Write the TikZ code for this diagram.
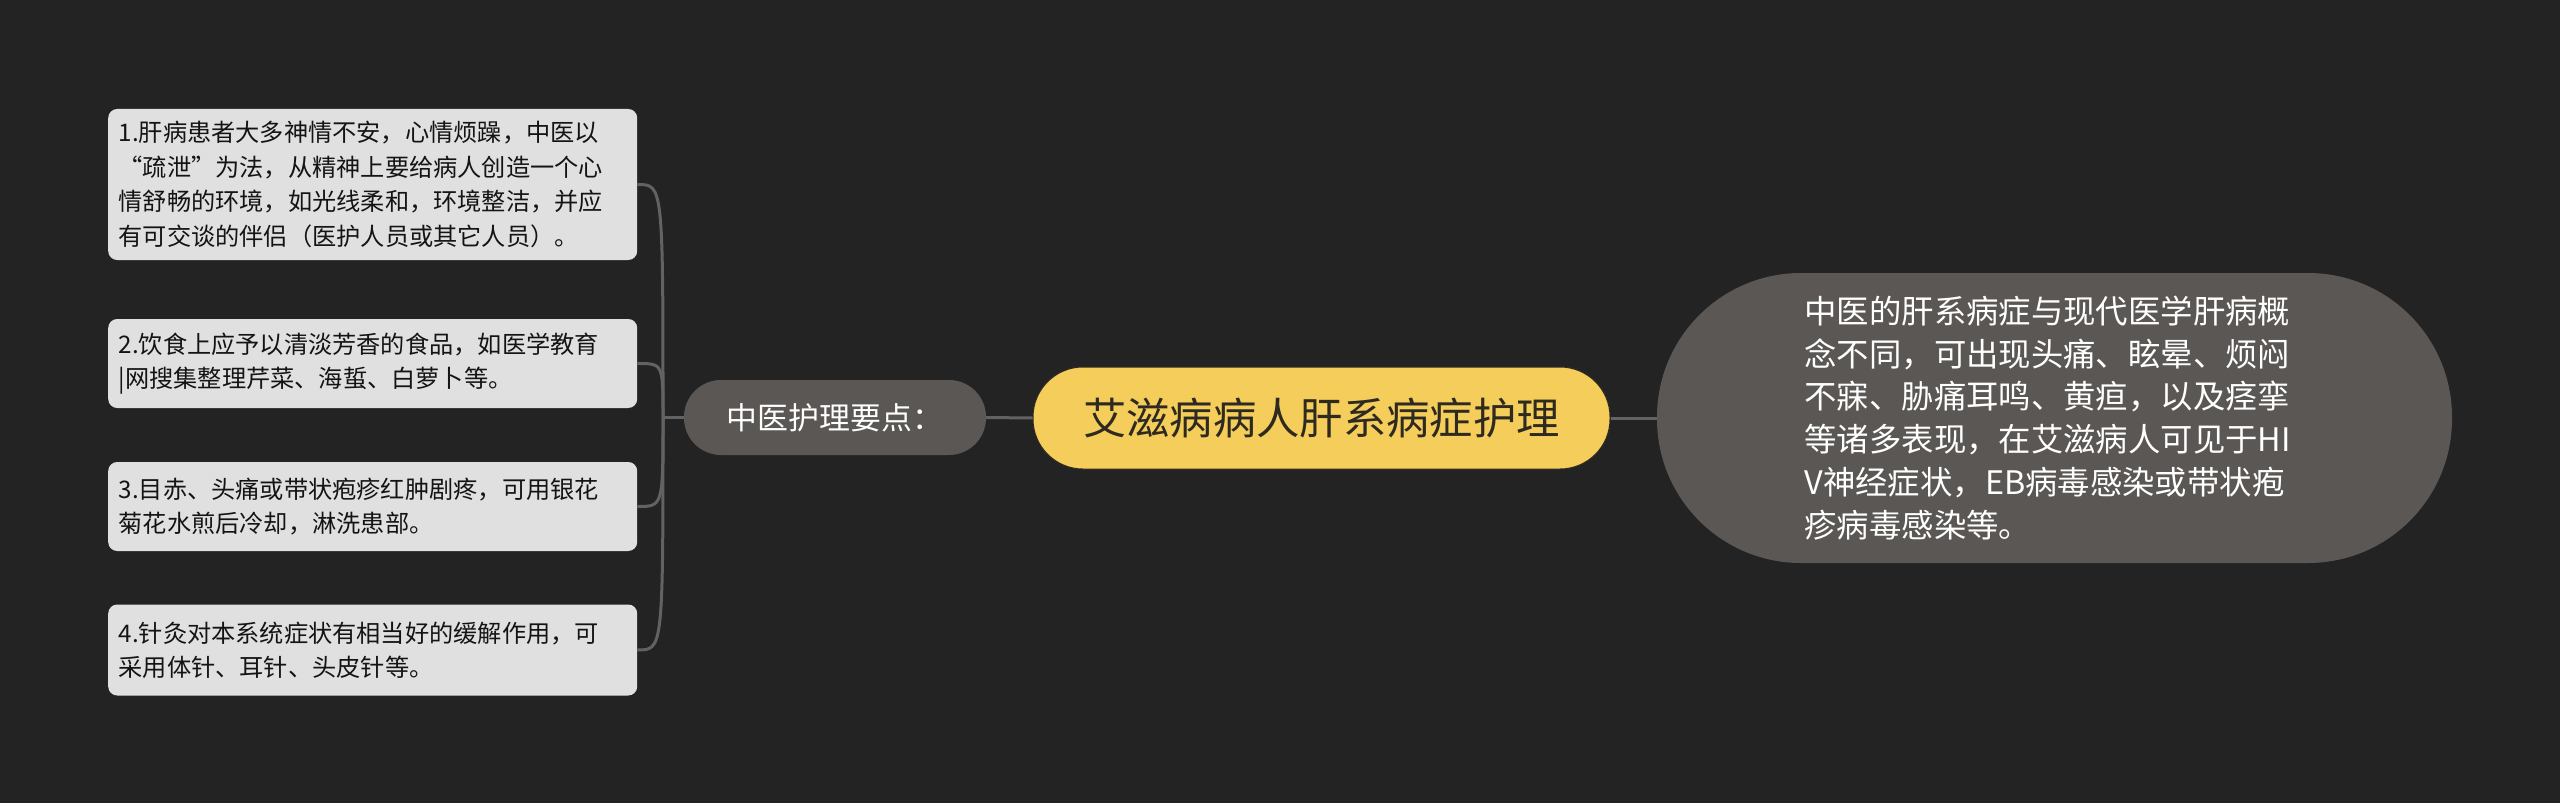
\documentclass[tikz,border=0pt]{standalone}
\usepackage{fontspec}
\setmainfont{Noto Sans CJK SC}
\definecolor{bgc}{HTML}{232323}
\definecolor{grayn}{HTML}{5A5754}
\definecolor{leaff}{HTML}{E0E0E0}
\definecolor{leaft}{HTML}{141414}
\definecolor{yel}{HTML}{F5CD5B}
\definecolor{roott}{HTML}{2E2A20}
\definecolor{connc}{HTML}{626262}
\begin{document}
\begin{tikzpicture}[x=1bp,y=-1bp,
  leafbox/.style={fill=leaff, rounded corners=9bp, text width=508bp, inner xsep=10.5bp, inner ysep=0pt,
    align=left, anchor=west, text=leaft, font=\fontsize{24.3}{34.5}\selectfont},
  graynode/.style={fill=grayn, text=white, inner sep=0pt},
  conn/.style={draw=connc, line width=3bp}]
\fill[bgc] (0,0) rectangle (2560,803);
\useasboundingbox (0,0) rectangle (2560,803);

% leaves
\node[leafbox, minimum height=151bp] (l1) at (108,184.5)
  {1.肝病患者大多神情不安，心情烦躁，中医以\\“疏泄”为法，从精神上要给病人创造一个心\\情舒畅的环境，如光线柔和，环境整洁，并应\\有可交谈的伴侣（医护人员或其它人员）。};
\node[leafbox, minimum height=89bp] (l2) at (108,363.5)
  {2.饮食上应予以清淡芳香的食品，如医学教育\\|网搜集整理芹菜、海蜇、白萝卜等。};
\node[leafbox, minimum height=89bp] (l3) at (108,506.5)
  {3.目赤、头痛或带状疱疹红肿剧疼，可用银花\\菊花水煎后冷却，淋洗患部。};
\node[leafbox, minimum height=91bp] (l4) at (108,650)
  {4.针灸对本系统症状有相当好的缓解作用，可\\采用体针、耳针、头皮针等。};

% middle node
\node[graynode, minimum width=302bp, minimum height=75bp, rounded corners=37bp,
  font=\fontsize{31}{37}\selectfont] (mid) at (835,417.5) {中医护理要点：};

% root
\node[fill=yel, draw=roott, line width=1bp, minimum width=577bp, minimum height=102bp,
  rounded corners=50bp, inner sep=0pt, text=roott, font=\fontsize{43.5}{50}\selectfont]
  (root) at (1321.5,418) {艾滋病病人肝系病症护理};

% right description
\node[graynode, minimum width=795bp, minimum height=290bp, rounded corners=144bp,
  text width=500bp, align=left, font=\fontsize{32.5}{43}\selectfont] (desc) at (2054.5,418)
  {中医的肝系病症与现代医学肝病概\\念不同，可出现头痛、眩晕、烦闷\\不寐、胁痛耳鸣、黄疸，以及痉挛\\等诸多表现，在艾滋病人可见于HI\\V神经症状，EB病毒感染或带状疱\\疹病毒感染等。};

\coordinate (J) at (663,417.5);

\draw[conn] (J) -- (mid.west);
\draw[conn] (mid.east) -- (root.west);
\draw[conn] (root.east) -- (desc.west);
\foreach \l in {l1,l2,l3,l4}
  \draw[conn] (J) .. controls (J |- \l.east) and (J |- \l.east) .. (\l.east);
\end{tikzpicture}
\end{document}
